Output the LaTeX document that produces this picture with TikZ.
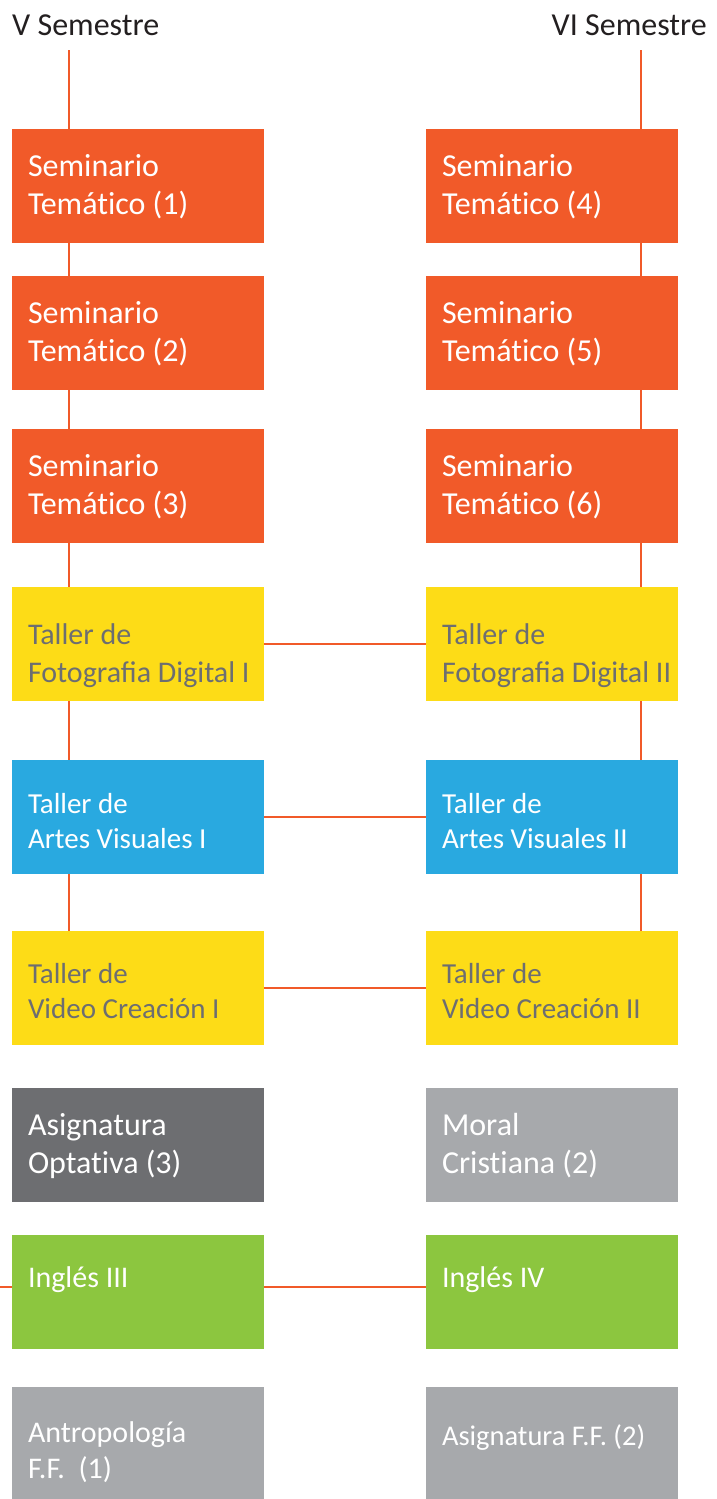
\documentclass[tikz,border=0pt]{standalone}
\usepackage{fontspec}
\setmainfont{Carlito}
\newcommand{\nolig}{\kern0pt }
\definecolor{cOrange}{HTML}{F15A29}
\definecolor{cYellow}{HTML}{FDDC17}
\definecolor{cBlue}{HTML}{29A9E0}
\definecolor{cDark}{HTML}{6D6E71}
\definecolor{cLight}{HTML}{A7A9AC}
\definecolor{cGreen}{HTML}{8CC63F}
\definecolor{cText}{HTML}{231F20}
\begin{document}
\begin{tikzpicture}[x=1pt,y=1pt,
  box/.style={rectangle, minimum width=252pt, minimum height=114pt, inner sep=0pt, draw=none},
  txt/.style={anchor=west, align=left, inner sep=0pt, font=\fontsize{32}{38}\selectfont},
  txtm/.style={anchor=west, align=left, inner sep=0pt, font=\fontsize{30}{38}\selectfont},
  txts/.style={anchor=west, align=left, inner sep=0pt, font=\fontsize{29}{35}\selectfont},
  hdr/.style={inner sep=0pt, font=\fontsize{32}{36}\selectfont, text=cText},
  conn/.style={draw=cOrange, line width=2.2pt}]
\useasboundingbox (0,0) rectangle (716,-1499);
% headers
\node[hdr, anchor=base west] (h1) at (12,-35) {V Semestre};
\node[hdr, anchor=base east] (h2) at (707,-35) {VI Semestre};
\coordinate (tl) at (69,-50);
\coordinate (tr) at (641,-50);
% left column
\node[box, fill=cOrange] (a1) at (138,-186) {};
\node[box, fill=cOrange] (a2) at (138,-333) {};
\node[box, fill=cOrange] (a3) at (138,-486) {};
\node[box, fill=cYellow] (a4) at (138,-644) {};
\node[box, fill=cBlue]   (a5) at (138,-817) {};
\node[box, fill=cYellow] (a6) at (138,-988) {};
\node[box, fill=cDark]   (a7) at (138,-1145) {};
\node[box, fill=cGreen]  (a8) at (138,-1292) {};
\node[box, fill=cLight]  (a9) at (138,-1444) {};
% right column
\node[box, fill=cOrange] (b1) at (552,-186) {};
\node[box, fill=cOrange] (b2) at (552,-333) {};
\node[box, fill=cOrange] (b3) at (552,-486) {};
\node[box, fill=cYellow] (b4) at (552,-644) {};
\node[box, fill=cBlue]   (b5) at (552,-817) {};
\node[box, fill=cYellow] (b6) at (552,-988) {};
\node[box, fill=cLight]  (b7) at (552,-1145) {};
\node[box, fill=cGreen]  (b8) at (552,-1292) {};
\node[box, fill=cLight]  (b9) at (552,-1444) {};
% texts left
\node[txt, text=white] (ta1) at ([xshift=16pt,yshift=-1pt]a1.west) {Seminario\\Temát\nolig ico (1)};
\node[txt, text=white] (ta2) at ([xshift=16pt,yshift=-1pt]a2.west) {Seminario\\Temát\nolig ico (2)};
\node[txt, text=white] (ta3) at ([xshift=16pt,yshift=-1pt]a3.west) {Seminario\\Temát\nolig ico (3)};
\node[txtm, text=cDark] (ta4) at ([xshift=16pt,yshift=-12pt]a4.west) {Taller de\\Fotografia Digital I};
\node[txts, text=white] (ta5) at ([xshift=16pt,yshift=-4pt]a5.west) {Taller de\\Artes Visuales I};
\node[txts, text=cDark] (ta6) at ([xshift=16pt,yshift=-3pt]a6.west) {Taller de\\Video Creación I};
\node[txt, text=white] (ta7) at ([xshift=16pt,yshift=-1pt]a7.west) {Asignatura\\Optat\nolig iva (3)};
\node[txtm, text=white] (ta8) at ([xshift=16pt,yshift=12pt]a8.west) {Inglés III};
\node[txtm, text=white, font=\fontsize{30}{36}\selectfont] (ta9) at ([xshift=16pt,yshift=-8pt]a9.west) {Antropología\\F.F.\ \ (1)};
% texts right
\node[txt, text=white] (tb1) at ([xshift=16pt,yshift=-1pt]b1.west) {Seminario\\Temát\nolig ico (4)};
\node[txt, text=white] (tb2) at ([xshift=16pt,yshift=-1pt]b2.west) {Seminario\\Temát\nolig ico (5)};
\node[txt, text=white] (tb3) at ([xshift=16pt,yshift=-1pt]b3.west) {Seminario\\Temát\nolig ico (6)};
\node[txtm, text=cDark] (tb4) at ([xshift=16pt,yshift=-12pt]b4.west) {Taller de\\Fotografia Digital II};
\node[txts, text=white] (tb5) at ([xshift=16pt,yshift=-4pt]b5.west) {Taller de\\Artes Visuales II};
\node[txts, text=cDark] (tb6) at ([xshift=16pt,yshift=-3pt]b6.west) {Taller de\\Video Creación II};
\node[txt, text=white] (tb7) at ([xshift=16pt,yshift=-1pt]b7.west) {Moral\\Crist\nolig iana (2)};
\node[txtm, text=white] (tb8) at ([xshift=16pt,yshift=12pt]b8.west) {Inglés IV};
\node[txtm, text=white, font=\fontsize{28.5}{34}\selectfont] (tb9) at ([xshift=16pt,yshift=6pt]b9.west) {Asignatura F.F. (2)};
% vertical connectors
\draw[conn] (tl) -- (a1.north -| tl);
\draw[conn] (a1.south -| tl) -- (a2.north -| tl);
\draw[conn] (a2.south -| tl) -- (a3.north -| tl);
\draw[conn] (a3.south -| tl) -- (a4.north -| tl);
\draw[conn] (a4.south -| tl) -- (a5.north -| tl);
\draw[conn] (a5.south -| tl) -- (a6.north -| tl);
\draw[conn] (tr) -- (b1.north -| tr);
\draw[conn] (b1.south -| tr) -- (b2.north -| tr);
\draw[conn] (b2.south -| tr) -- (b3.north -| tr);
\draw[conn] (b3.south -| tr) -- (b4.north -| tr);
\draw[conn] (b4.south -| tr) -- (b5.north -| tr);
\draw[conn] (b5.south -| tr) -- (b6.north -| tr);
% horizontal connectors
\draw[conn] (a4.east) -- (b4.west);
\draw[conn] (a5.east) -- (b5.west);
\draw[conn] (a6.east) -- (b6.west);
\draw[conn] ([yshift=5pt]a8.east) -- ([yshift=5pt]b8.west);
\coordinate (lin) at (0,-1287);
\draw[conn] (lin) -- (lin -| a8.west);
\end{tikzpicture}
\end{document}
